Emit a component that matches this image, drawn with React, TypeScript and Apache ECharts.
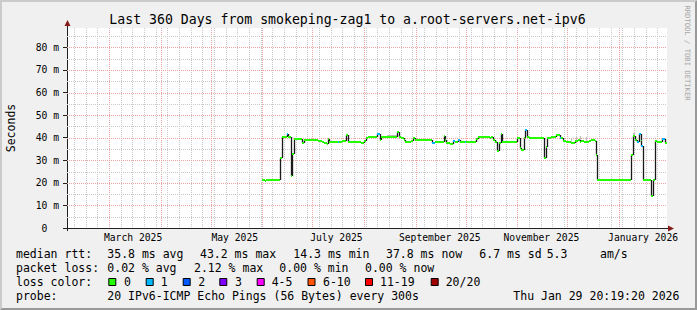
import React, { useEffect, useRef } from 'react';
import * as echarts from 'echarts';

// ---------- data ----------
const GRAPH_START = '2025-02-03T20:19:20Z';
const GRAPH_END = '2026-01-29T20:19:20Z';

// median RTT steps (start of step, local time 'YYYY-MM-DD HH')
const stepStart = [
  '2025-05-31 20', '2025-06-02 16', '2025-06-03 13', '2025-06-11 16', '2025-06-12 16', '2025-06-15 16',
  '2025-06-16 15', '2025-06-18 02', '2025-06-19 01', '2025-06-20 01', '2025-06-24 16', '2025-06-26 06',
  '2025-07-04 15', '2025-07-06 16', '2025-07-08 06', '2025-07-09 16', '2025-07-10 15', '2025-07-11 06',
  '2025-07-16 15', '2025-07-17 06', '2025-07-19 01', '2025-07-21 02', '2025-07-22 06', '2025-07-28 11',
  '2025-07-30 10', '2025-08-01 01', '2025-08-02 10', '2025-08-03 11', '2025-08-09 01', '2025-08-10 11',
  '2025-08-11 10', '2025-08-20 20', '2025-08-21 21', '2025-08-23 10', '2025-08-24 21', '2025-08-25 20',
  '2025-08-29 02', '2025-08-30 11', '2025-08-31 20', '2025-09-10 20', '2025-09-12 11', '2025-09-18 01',
  '2025-09-18 20', '2025-09-19 10', '2025-09-21 11', '2025-09-23 11', '2025-09-24 11', '2025-09-26 11',
  '2025-09-27 11', '2025-09-30 11', '2025-10-01 10', '2025-10-07 10', '2025-10-08 11', '2025-10-15 11',
  '2025-10-16 10', '2025-10-17 11', '2025-10-18 11', '2025-10-19 20', '2025-10-20 21', '2025-10-22 02',
  '2025-10-23 01', '2025-11-01 01', '2025-11-02 11', '2025-11-03 10', '2025-11-04 21', '2025-11-05 11',
  '2025-11-06 20', '2025-11-07 21', '2025-11-17 01', '2025-11-18 02', '2025-11-19 01', '2025-11-21 02',
  '2025-11-24 10', '2025-11-26 11', '2025-11-27 06', '2025-11-28 11', '2025-11-30 10', '2025-12-03 10',
  '2025-12-05 11', '2025-12-07 11', '2025-12-08 11', '2025-12-09 10', '2025-12-11 01', '2025-12-13 21',
  '2025-12-15 10', '2025-12-17 20', '2025-12-18 10', '2025-12-19 01', '2026-01-08 10', '2026-01-09 06',
  '2026-01-10 11', '2026-01-12 01', '2026-01-13 01', '2026-01-14 02', '2026-01-14 10', '2026-01-15 11',
  '2026-01-20 10', '2026-01-21 11', '2026-01-22 11', '2026-01-24 01', '2026-01-26 20', '2026-01-28 11',
];
// median RTT in ms
const medianRtt = [
  21.2, 20.7, 21.3, 31.1, 40.2, 41.5,
  40.4, 23.0, 32.6, 39.3, 37.8, 39.0,
  38.5, 38.2, 37.8, 37.3, 39.4, 38.1,
  38.2, 38.1, 38.5, 41.2, 38.1, 38.2,
  37.8, 38.5, 39.7, 40.3, 41.5, 39.2,
  40.3, 42.4, 40.3, 39.7, 38.9, 38.1,
  38.5, 39.7, 38.9, 37.8, 38.2, 40.7,
  38.9, 37.8, 37.4, 38.5, 38.2, 39.2,
  38.2, 38.2, 38.1, 39.3, 40.3, 39.7,
  40.3, 39.2, 38.2, 34.1, 37.8, 41.8,
  38.1, 39.7, 35.3, 34.4, 40.0, 43.2,
  40.3, 39.7, 30.8, 35.9, 39.7, 40.3,
  41.0, 40.0, 39.7, 38.5, 38.1, 37.8,
  38.5, 38.9, 38.2, 38.5, 38.1, 38.5,
  38.9, 38.5, 32.3, 21.1, 32.3, 40.7,
  38.9, 38.2, 41.8, 38.5, 36.3, 21.3,
  14.3, 21.2, 38.5, 38.1, 39.3, 37.8,
];
// lost pings out of 20
const lostPings = [
  0, 0, 0, 0, 0, 1,
  0, 0, 0, 0, 0, 0,
  0, 0, 0, 0, 0, 0,
  1, 0, 0, 0, 0, 0,
  0, 0, 0, 0, 1, 0,
  0, 0, 0, 0, 0, 0,
  0, 0, 0, 1, 0, 0,
  0, 0, 0, 1, 0, 1,
  0, 1, 0, 0, 0, 0,
  0, 0, 0, 0, 0, 0,
  0, 0, 0, 0, 0, 1,
  0, 0, 0, 0, 0, 0,
  0, 1, 0, 0, 0, 0,
  0, 0, 0, 0, 0, 0,
  0, 0, 0, 0, 0, 0,
  0, 1, 1, 0, 1, 0,
  0, 0, 0, 0, 1, 0,
];

// visible smoke (rtt spread)
const smokeFrom = ['2025-08-03 11', '2025-08-15 01', '2025-12-03 01', '2025-12-06 10', '2025-12-08 16', '2025-12-12 06', '2026-01-09 06'];
const smokeTo = ['2025-08-05 10', '2025-08-20 20', '2025-12-03 16', '2025-12-07 00', '2025-12-09 06', '2025-12-12 20', '2026-01-10 11'];
const smokeLow = [40.3, 40.3, 37.8, 38.5, 38.2, 38.1, 40.7];
const smokeHigh = [40.9, 41.0, 39.8, 40.4, 40.6, 40.1, 42.2];

const monthStarts = ['2025-03-01', '2025-04-01', '2025-05-01', '2025-06-01', '2025-07-01', '2025-08-01',
  '2025-09-01', '2025-10-01', '2025-11-01', '2025-12-01', '2026-01-01'];
const firstWeekLine = '2025-02-08';
const xLabelAt = ['2025-03-15 12', '2025-05-15 12', '2025-07-15 12', '2025-09-15 12', '2025-11-15 12', '2026-01-15 12'];
const xLabels = ['March 2025', 'May 2025', 'July 2025', 'September 2025', 'November 2025', 'January 2026'];
const yTickValues = [0, 10, 20, 30, 40, 50, 60, 70, 80];
const yGridValues = [5, 10, 15, 20, 25, 30, 35, 40, 45, 50, 55, 60, 65, 70, 75, 80, 85];
const Y_MAX = 88.6;

const lossLabels = ['0', '1', '2', '3', '4-5', '6-10', '11-19', '20/20'];
const lossMax = [0, 1, 2, 3, 5, 10, 19, 20];
const lossColors = ['#26ff00', '#00b8ff', '#0059ff', '#7e00ff', '#ff00ff', '#ff5500', '#ff0000', '#a10000'];

const titleText = 'Last 360 Days from smokeping-zag1 to a.root-servers.net-ipv6';
const rttStats = ['35.8 ms avg', '43.2 ms max', '14.3 ms min', '37.8 ms now', '6.7 ms sd', '5.3', 'am/s'];
const lossStats = ['0.02 % avg', '2.12 % max', '0.00 % min', '0.00 % now'];
const probeText = '20 IPv6-ICMP Echo Pings (56 Bytes) every 300s';
const stampText = 'Thu Jan 29 20:19:20 2026';

// ---------- layout ----------
const W = 697, H = 310;
const FF = 'DejaVu Sans Mono';
const rowY = [254, 268, 282, 296];
const statX0 = 107.3;
const rttStatX = [107.3, 200, 293.3, 386, 479.3, 546.7, 600];
const lossStatX = [107.3, 194, 279.3, 365];
const boxX = [108.3, 145.7, 182.7, 219.3, 256.7, 307.5, 365, 430.7];
const boxLabelX = [124, 160.7, 198.3, 235, 271.7, 323, 380, 445.7];
const AXIS = '#202020';
const MINOR = '#c9c9c9';
const MAJOR = '#eea3a3';

const ts = (s: string) => (s.length <= 10 ? Date.parse(s + 'T00:00Z') : Date.parse(s.replace(' ', 'T') + ':00Z'));
const lossColor = (n: number) => {
  for (let i = 0; i < lossMax.length; i++) if (n <= lossMax[i]) return lossColors[i];
  return lossColors[lossColors.length - 1];
};

function txt(text: string, x: number, y: number, size = 11.5, extra: any = {}) {
  return {
    type: 'text', x, y, silent: true,
    style: { text, fontFamily: FF, fontSize: size, fill: '#000', align: 'left', verticalAlign: 'middle', ...(extra.style || {}) },
    ...(extra.el || {}),
  };
}

export default function App() {
  const ref = useRef<HTMLDivElement>(null);
  useEffect(() => {
    const el = ref.current!;
    const chart = echarts.init(el, null, { renderer: 'svg', width: W, height: H });
    const t0 = Date.parse(GRAPH_START);
    const t1 = Date.parse(GRAPH_END);
    const times = stepStart.map(ts);
    const medData = times.map((t, i) => [t, medianRtt[i], i + 1 < times.length ? times[i + 1] : t1, lostPings[i], i > 0 ? medianRtt[i - 1] : medianRtt[i]]);

    const weekLines: number[][] = [];
    for (let t = ts(firstWeekLine); t < t1; t += 7 * 86400000) weekLines.push([t, 0, 0]);
    const vGrid = weekLines.concat(monthStarts.map((m) => [ts(m), 0, 1]));
    const hGrid = yGridValues.map((v) => [t0, v, v % 10 === 0 ? 1 : 0]);
    const smokeData = smokeFrom.map((s, i) => [ts(s), smokeLow[i], ts(smokeTo[i]), smokeHigh[i]]);
    const labelTs = xLabelAt.map(ts);

    const graphics: any[] = [
      { type: 'polygon', silent: true, shape: { points: [[0, 0], [W, 0], [W - 2, 2], [2, 2], [2, H - 2], [0, H]] }, style: { fill: '#cbcbcb' } },
      { type: 'polygon', silent: true, shape: { points: [[W, 0], [W, H], [0, H], [2, H - 2], [W - 2, H - 2], [W - 2, 2]] }, style: { fill: '#999999' } },
      txt(titleText, 347.5, 19.5, 13.2, { style: { align: 'center' } }),
      txt('Seconds', 10.5, 128, 11.5, { style: { align: 'center' }, el: { rotation: Math.PI / 2 } }),
      txt('RRDTOOL / TOBI OETIKER', 687.5, 53, 7.2, { style: { align: 'center', fill: '#a6a6a6' }, el: { rotation: -Math.PI / 2 } }),
      { type: 'line', silent: true, shape: { x1: 67.5, y1: 22, x2: 67.5, y2: 231 }, style: { stroke: AXIS, lineWidth: 1 } },
      { type: 'line', silent: true, shape: { x1: 667, y1: 228.5, x2: 669, y2: 228.5 }, style: { stroke: AXIS, lineWidth: 1 } },
      { type: 'polygon', silent: true, shape: { points: [[64.5, 26], [70.5, 26], [67.5, 20]] }, style: { fill: '#861c1c' } },
      { type: 'polygon', silent: true, shape: { points: [[668, 225.5], [668, 231.5], [674, 228.5]] }, style: { fill: '#861c1c' } },
      txt('median rtt:', 16, rowY[0]),
      ...rttStats.map((s, i) => txt(s, rttStatX[i], rowY[0])),
      txt('packet loss:', 16, rowY[1]),
      ...lossStats.map((s, i) => txt(s, lossStatX[i], rowY[1])),
      txt('loss color:', 16, rowY[2]),
      ...lossLabels.map((l, i) => ({
        type: 'rect', silent: true,
        shape: { x: boxX[i] + 0.5, y: rowY[2] - 3.5, width: 7, height: 7 },
        style: { fill: lossColors[i], stroke: '#000', lineWidth: 1 },
      })),
      ...lossLabels.map((l, i) => txt(l, boxLabelX[i], rowY[2])),
      txt('probe:', 16, rowY[3]),
      txt(probeText, statX0, rowY[3]),
      txt(stampText, 513.3, rowY[3]),
    ];

    const option: any = {
      animation: false,
      backgroundColor: '#f0f0f0',
      grid: { left: 67, top: 28, width: 600, height: 200, show: true, backgroundColor: '#ffffff', borderWidth: 0 },
      xAxis: {
        type: 'value', min: t0, max: t1,
        axisLine: { show: true, onZero: false, lineStyle: { color: AXIS, width: 1 } },
        axisTick: { show: false },
        splitLine: { show: false },
        axisLabel: {
          customValues: labelTs,
          formatter: (v: number) => {
            let best = 0;
            labelTs.forEach((t, i) => { if (Math.abs(t - v) < Math.abs(labelTs[best] - v)) best = i; });
            return xLabels[best];
          },
          fontFamily: FF, fontSize: 9.7, color: '#000', margin: 4,
        },
      },
      yAxis: {
        type: 'value', min: 0, max: Y_MAX, interval: 10,
        axisLine: { show: true, lineStyle: { color: AXIS, width: 1 } },
        axisTick: { show: true, length: 4, customValues: yTickValues, lineStyle: { color: AXIS } },
        splitLine: { show: false },
        axisLabel: {
          customValues: yTickValues,
          formatter: (v: number) => (v === 0 ? '{z|0}' : v + ' m'),
          fontFamily: FF, fontSize: 9.7, color: '#000', margin: 8,
          rich: { z: { fontFamily: FF, fontSize: 9.7, color: '#000', padding: [0, 11.7, 0, 0] } },
        },
      },
      series: [
        {
          type: 'custom', name: 'vgrid', z: 1, silent: true, data: vGrid,
          renderItem: (_p: any, api: any) => {
            const x = Math.round(api.coord([api.value(0), 0])[0]) + 0.5;
            const yb = api.coord([t0, 0])[1];
            const yt = api.coord([t0, Y_MAX])[1];
            return { type: 'line', shape: { x1: x, y1: yt, x2: x, y2: yb }, style: { stroke: api.value(2) ? MAJOR : MINOR, lineWidth: 1, lineDash: [1, 1] } };
          },
        },
        {
          type: 'custom', name: 'hgrid', z: 1, silent: true, data: hGrid,
          renderItem: (_p: any, api: any) => {
            const y = Math.round(api.coord([t0, api.value(1)])[1]) + 0.5;
            const xl = api.coord([t0, 0])[0];
            const xr = api.coord([t1, 0])[0];
            return { type: 'line', shape: { x1: xl, y1: y, x2: xr, y2: y }, style: { stroke: api.value(2) ? MAJOR : MINOR, lineWidth: 1, lineDash: [1, 1] } };
          },
        },
        {
          type: 'custom', name: 'smoke', z: 2, silent: true, data: smokeData,
          renderItem: (_p: any, api: any) => {
            const a = api.coord([api.value(0), api.value(3)]);
            const b = api.coord([api.value(2), api.value(1)]);
            return { type: 'rect', shape: { x: Math.round(a[0]), y: Math.round(a[1]), width: Math.max(1, Math.round(b[0]) - Math.round(a[0])), height: Math.max(1, Math.round(b[1]) - Math.round(a[1])) }, style: { fill: '#bdbdbd' } };
          },
        },
        {
          type: 'custom', name: 'median', z: 3, silent: true, data: medData,
          renderItem: (p: any, api: any) => {
            const a = api.coord([api.value(0), api.value(1)]);
            const b = api.coord([api.value(2), api.value(1)]);
            const prev = api.coord([api.value(0), api.value(4)]);
            const xa = Math.round(a[0]);
            const xb = Math.round(b[0]);
            const y = Math.round(a[1]);
            const children: any[] = [];
            if (p.dataIndex > 0) {
              const yp = Math.round(prev[1]);
              children.push({ type: 'line', shape: { x1: xa + 0.5, y1: yp, x2: xa + 0.5, y2: y }, style: { stroke: '#1a1a1a', lineWidth: 1.3 } });
            }
            children.push({ type: 'rect', shape: { x: xa, y: y - 1, width: Math.max(1, xb - xa), height: 2 }, style: { fill: lossColor(api.value(3)) } });
            return { type: 'group', children };
          },
        },
      ],
      graphic: graphics,
    };
    chart.setOption(option);
    return () => chart.dispose();
  }, []);
  return <div ref={ref} style={{ position: 'absolute', left: 0, top: 0, width: W, height: H }} />;
}
